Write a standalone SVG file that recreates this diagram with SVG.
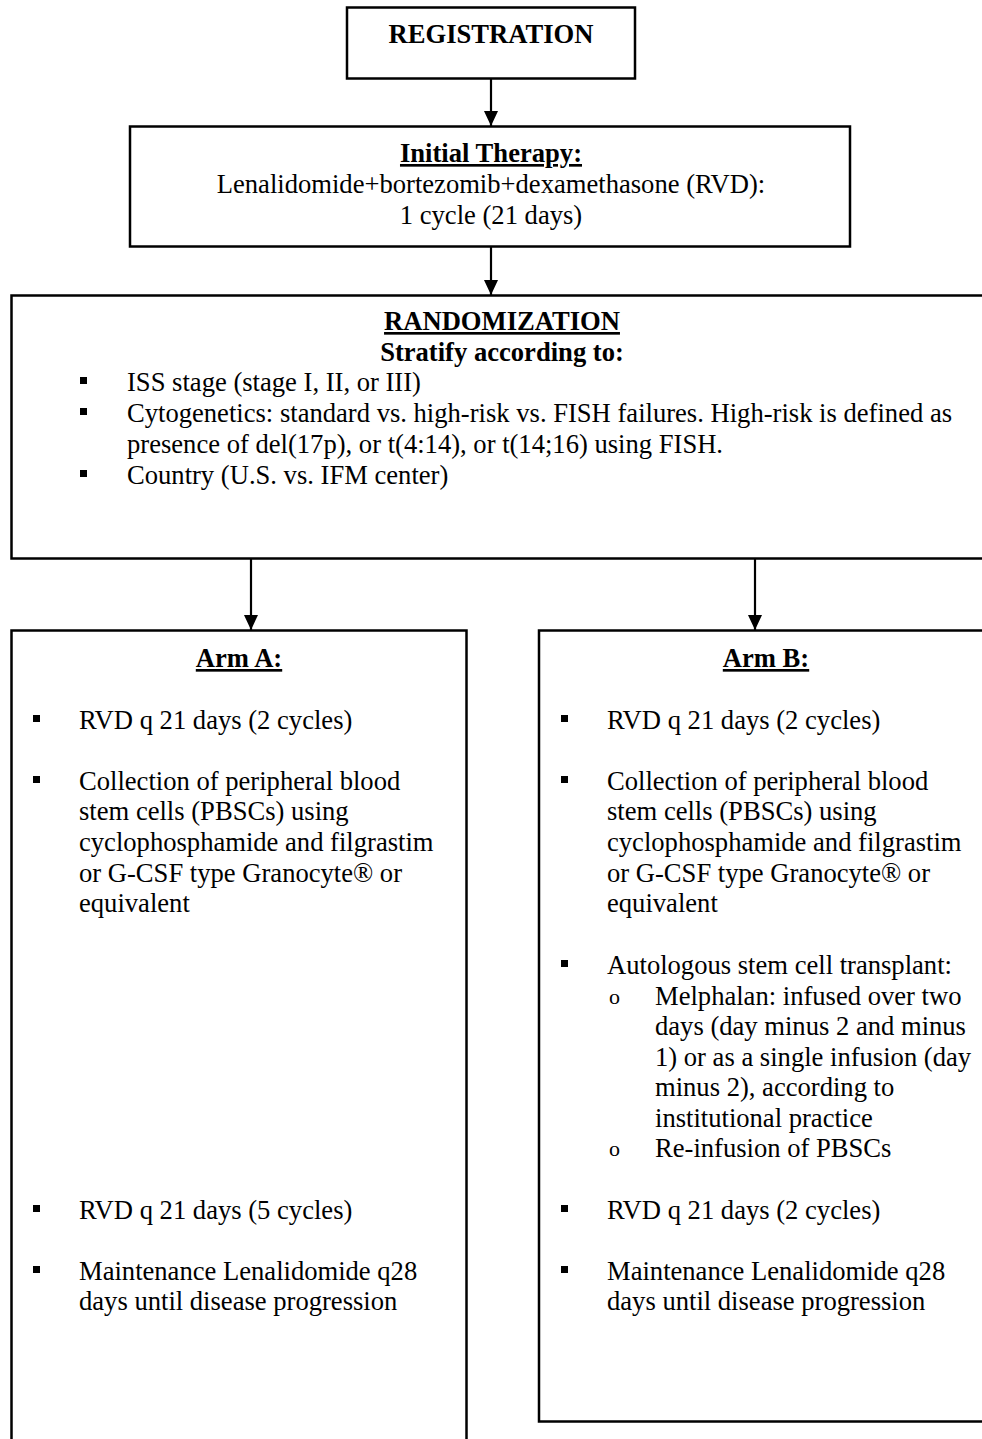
<svg xmlns="http://www.w3.org/2000/svg" width="982" height="1439" viewBox="0 0 982 1439">
<style>
.box{fill:#fff;stroke:#000;stroke-width:2.5}
.t{font-family:"Liberation Serif","Times New Roman",serif;font-size:26.6px;fill:#000}
.b{font-weight:bold}
.c{text-anchor:middle}
.u{text-decoration:underline}
.o{font-size:22px}
.conn{stroke:#000;stroke-width:2.2;fill:none}
.blt{fill:#000}
</style>
<defs>
<marker id="ah" markerUnits="userSpaceOnUse" viewBox="0 0 15 14" refX="15" refY="7" markerWidth="15" markerHeight="14" orient="auto">
<path d="M0,0 L15,7 L0,14 z" fill="#000"/>
</marker>
</defs>
<rect width="982" height="1439" fill="#fff"/>
<g id="connectors">
<line class="conn" x1="491" y1="79" x2="491" y2="126" marker-end="url(#ah)"/>
<line class="conn" x1="491" y1="247" x2="491" y2="295" marker-end="url(#ah)"/>
<line class="conn" x1="251" y1="559" x2="251" y2="630" marker-end="url(#ah)"/>
<line class="conn" x1="755" y1="559" x2="755" y2="630" marker-end="url(#ah)"/>
</g>
<g id="registration">
<rect class="box" x="347" y="7.5" width="288" height="71"/>
<text class="t b c" x="491" y="43">REGISTRATION</text>
</g>
<g id="initial-therapy">
<rect class="box" x="130" y="126.5" width="720" height="120"/>
<text class="t b c u" x="491" y="162">Initial Therapy:</text>
<text class="t c" x="491" y="193">Lenalidomide+bortezomib+dexamethasone (RVD):</text>
<text class="t c" x="491" y="224">1 cycle (21 days)</text>
</g>
<g id="randomization">
<rect class="box" x="11.5" y="295.5" width="985" height="263"/>
<text class="t b c u" x="502" y="330">RANDOMIZATION</text>
<text class="t b c" x="502" y="361">Stratify according to:</text>
<rect class="blt" x="80" y="377" width="7" height="7"/>
<text class="t" x="127" y="391">ISS stage (stage I, II, or III)</text>
<rect class="blt" x="80" y="408" width="7" height="7"/>
<text class="t" x="127" y="422">Cytogenetics: standard vs. high-risk vs. FISH failures. High-risk is defined as</text>
<text class="t" x="127" y="453">presence of del(17p), or t(4:14), or t(14;16) using FISH.</text>
<rect class="blt" x="80" y="470" width="7" height="7"/>
<text class="t" x="127" y="484">Country (U.S. vs. IFM center)</text>
</g>
<g id="arm-a">
<rect class="box" x="11.5" y="630.5" width="455" height="830"/>
<text class="t b c u" x="239" y="667">Arm A:</text>
<rect class="blt" x="33" y="715" width="7" height="7"/>
<text class="t" x="79" y="729">RVD q 21 days (2 cycles)</text>
<rect class="blt" x="33" y="776" width="7" height="7"/>
<text class="t" x="79" y="790">Collection of peripheral blood</text>
<text class="t" x="79" y="820">stem cells (PBSCs) using</text>
<text class="t" x="79" y="851">cyclophosphamide and filgrastim</text>
<text class="t" x="79" y="882">or G-CSF type Granocyte® or</text>
<text class="t" x="79" y="912">equivalent</text>
<rect class="blt" x="33" y="1205" width="7" height="7"/>
<text class="t" x="79" y="1219">RVD q 21 days (5 cycles)</text>
<rect class="blt" x="33" y="1266" width="7" height="7"/>
<text class="t" x="79" y="1280">Maintenance Lenalidomide q28</text>
<text class="t" x="79" y="1310">days until disease progression</text>
</g>
<g id="arm-b">
<rect class="box" x="539" y="630.5" width="460" height="791"/>
<text class="t b c u" x="766" y="667">Arm B:</text>
<rect class="blt" x="561" y="715" width="7" height="7"/>
<text class="t" x="607" y="729">RVD q 21 days (2 cycles)</text>
<rect class="blt" x="561" y="776" width="7" height="7"/>
<text class="t" x="607" y="790">Collection of peripheral blood</text>
<text class="t" x="607" y="820">stem cells (PBSCs) using</text>
<text class="t" x="607" y="851">cyclophosphamide and filgrastim</text>
<text class="t" x="607" y="882">or G-CSF type Granocyte® or</text>
<text class="t" x="607" y="912">equivalent</text>
<rect class="blt" x="561" y="960" width="7" height="7"/>
<text class="t" x="607" y="974">Autologous stem cell transplant:</text>
<text class="t o" x="609" y="1004">o</text>
<text class="t" x="655" y="1005">Melphalan: infused over two</text>
<text class="t" x="655" y="1035">days (day minus 2 and minus</text>
<text class="t" x="655" y="1066">1) or as a single infusion (day</text>
<text class="t" x="655" y="1096">minus 2), according to</text>
<text class="t" x="655" y="1127">institutional practice</text>
<text class="t o" x="609" y="1156">o</text>
<text class="t" x="655" y="1157">Re-infusion of PBSCs</text>
<rect class="blt" x="561" y="1205" width="7" height="7"/>
<text class="t" x="607" y="1219">RVD q 21 days (2 cycles)</text>
<rect class="blt" x="561" y="1266" width="7" height="7"/>
<text class="t" x="607" y="1280">Maintenance Lenalidomide q28</text>
<text class="t" x="607" y="1310">days until disease progression</text>
</g>
</svg>
